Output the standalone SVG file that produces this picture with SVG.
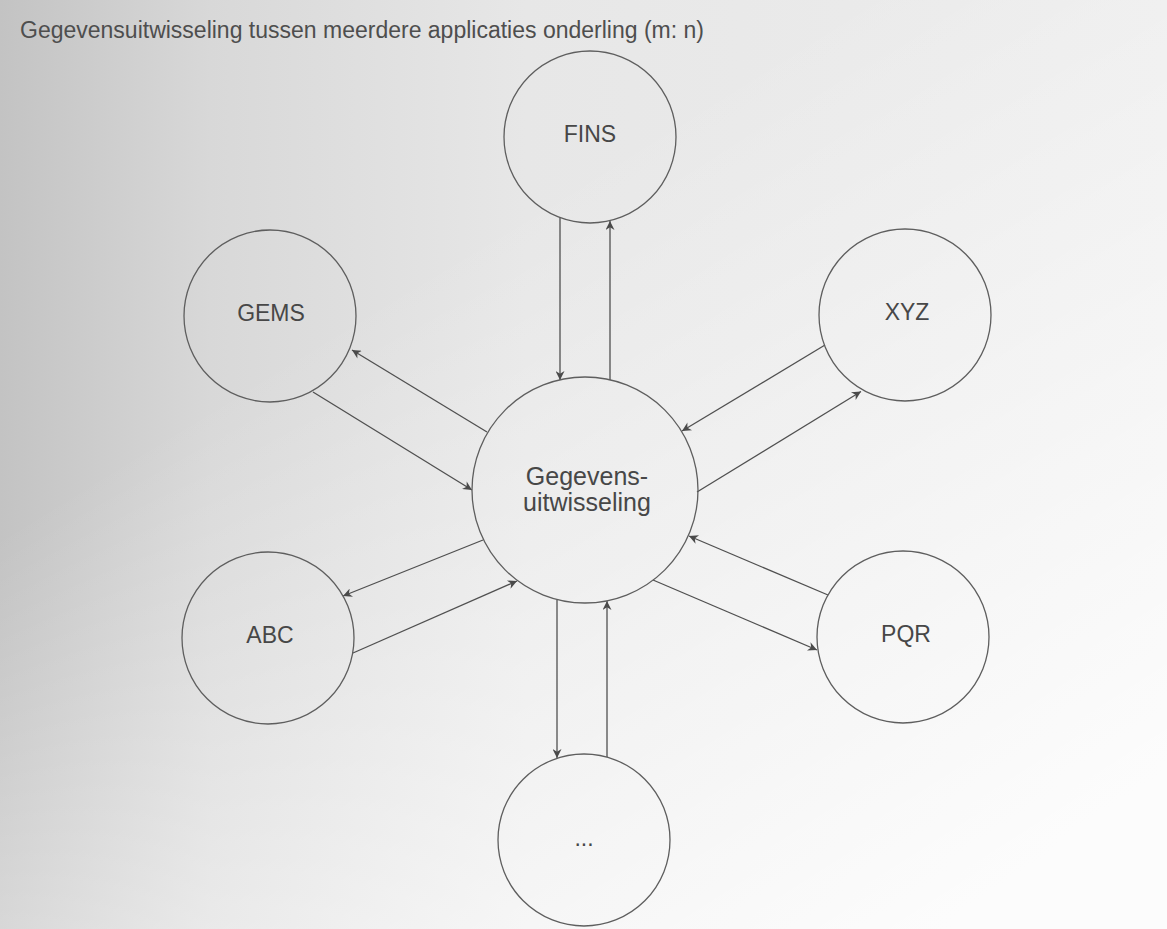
<svg xmlns="http://www.w3.org/2000/svg" width="1167" height="929" viewBox="0 0 1167 929">
  <defs>
    <linearGradient id="paper" x1="0" y1="0" x2="1" y2="0">
      <stop offset="0" stop-color="#c3c3c3"/>
      <stop offset="0.18" stop-color="#d8d8d8"/>
      <stop offset="0.45" stop-color="#e7e7e7"/>
      <stop offset="1" stop-color="#ededed"/>
    </linearGradient>
    <linearGradient id="fade" x1="0" y1="0" x2="0.8" y2="1">
      <stop offset="0.35" stop-color="#ffffff" stop-opacity="0"/>
      <stop offset="1" stop-color="#ffffff" stop-opacity="0.85"/>
    </linearGradient>
    <marker id="arrow" viewBox="0 0 10 10" refX="10" refY="5" markerWidth="11" markerHeight="9" markerUnits="userSpaceOnUse" orient="auto">
      <path d="M0,0 L10,5 L0,10 L3,5 z" fill="#4a4a4a"/>
    </marker>
    <style>
      .node circle { fill: none; stroke: #5e5e5e; stroke-width: 1.3; }
      .node text { font-family: "Liberation Sans", Arial, sans-serif; font-size: 23px; fill: #474747; text-anchor: middle; }
      .hub text { font-size: 25px; }
      .links line { stroke: #505050; stroke-width: 1.3; marker-end: url(#arrow); }
      .title { font-family: "Liberation Sans", Arial, sans-serif; font-size: 23px; fill: #4e4e4e; }
    </style>
  </defs>

  <rect width="1167" height="929" fill="url(#paper)"/>
  <rect width="1167" height="929" fill="url(#fade)"/>

  <text class="title" x="20" y="38">Gegevensuitwisseling tussen meerdere applicaties onderling (m: n)</text>

  <!-- connectors: one pair of opposite arrows per application -->
  <g id="connectors" class="links">
    <line x1="560" y1="218" x2="560" y2="380"/>
    <line x1="610" y1="380" x2="610" y2="221"/>

    <line x1="487" y1="432" x2="352" y2="350"/>
    <line x1="313" y1="392" x2="472" y2="490"/>

    <line x1="825" y1="345" x2="682" y2="431"/>
    <line x1="697" y1="492" x2="861" y2="391.5"/>

    <line x1="483" y1="540" x2="343" y2="596"/>
    <line x1="353" y1="653" x2="517" y2="581"/>

    <line x1="828" y1="595" x2="689" y2="536"/>
    <line x1="653" y1="580" x2="817" y2="650"/>

    <line x1="557" y1="600" x2="557" y2="758"/>
    <line x1="607" y1="757" x2="607" y2="601"/>
  </g>

  <g id="node-fins" class="node">
    <circle cx="590" cy="137" r="86"/>
    <text x="590" y="142">FINS</text>
  </g>
  <g id="node-gems" class="node">
    <circle cx="270" cy="316" r="86"/>
    <text x="271" y="321">GEMS</text>
  </g>
  <g id="node-xyz" class="node">
    <circle cx="905" cy="315" r="86"/>
    <text x="907" y="320">XYZ</text>
  </g>
  <g id="node-hub" class="node hub">
    <circle cx="585" cy="490" r="113"/>
    <text x="587" y="485">Gegevens-</text>
    <text x="587" y="511">uitwisseling</text>
  </g>
  <g id="node-abc" class="node">
    <circle cx="268" cy="638" r="86"/>
    <text x="270" y="643">ABC</text>
  </g>
  <g id="node-pqr" class="node">
    <circle cx="903" cy="637" r="86"/>
    <text x="906" y="642">PQR</text>
  </g>
  <g id="node-more" class="node">
    <circle cx="584" cy="840" r="86"/>
    <text x="584" y="846">...</text>
  </g>
</svg>
